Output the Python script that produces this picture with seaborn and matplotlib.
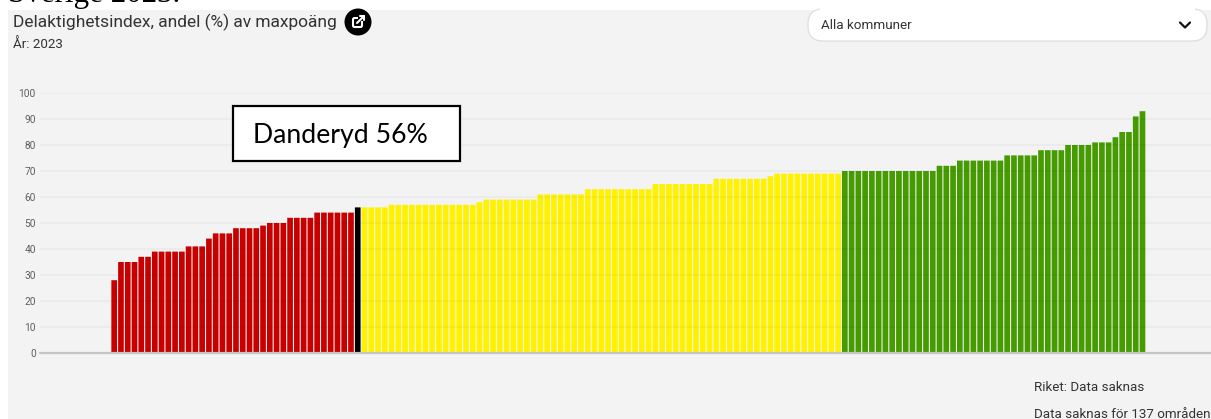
# -*- coding: utf-8 -*-
import pandas as pd
import matplotlib
matplotlib.use('Agg')
import matplotlib.pyplot as plt
from matplotlib.patches import Rectangle, FancyBboxPatch, Circle
import seaborn as sns

# Index values, sorted, grouped as (value, number of municipalities)
red_runs = [(28, 1), (35, 3), (37, 2), (39, 5), (41, 3), (44, 1), (46, 3), (48, 4),
            (49, 1), (50, 3), (52, 4), (54, 6)]
black_runs = [(56, 1)]
yellow_runs = [(56, 4), (57, 13), (58, 1), (59, 8), (61, 7), (63, 10), (65, 9),
               (67, 8), (68, 1), (69, 10)]
green_runs = [(70, 14), (72, 3), (74, 7), (76, 5), (78, 4), (80, 4), (81, 3),
              (83, 1), (85, 2), (91, 1), (93, 1)]

y_ticks = [0, 10, 20, 30, 40, 50, 60, 70, 80, 90, 100]

colors = {'red': '#C80000', 'black': '#000000', 'yellow': '#FFF200', 'green': '#459B00'}

W, H = 1211, 419
BG = '#F3F3F3'

# Build the table for seaborn
rows = []
for group, runs in [('red', red_runs), ('black', black_runs),
                    ('yellow', yellow_runs), ('green', green_runs)]:
    for value, count in runs:
        for _ in range(count):
            rows.append({'kommun': f'k{len(rows)}', 'group': group, 'value': value})
df = pd.DataFrame(rows)

sns.set_theme(style='white')
plt.rcParams['font.family'] = ['Roboto', 'DejaVu Sans']

fig = plt.figure(figsize=(W / 100, H / 100), dpi=100, facecolor='white')

# Clipped heading from the page behind the screenshot
fig.text(8 / W, 1 - 2 / H, 'Sverige 2023.', family='Liberation Serif', fontsize=22.3,
         color='black', ha='left', va='baseline', zorder=-2)
fig.patches.append(Rectangle((8 / W, 0), 1 - 8 / W, 1 - 10 / H, transform=fig.transFigure,
                             facecolor=BG, edgecolor='none', zorder=-1))

# Main chart, placed so 0 is at pixel row 353 and 100 at row 93
ax = fig.add_axes([40 / W, (H - 353) / H, (W - 40) / W, 260 / H])
ax.patch.set_alpha(0)
sns.barplot(data=df, x='kommun', y='value', hue='group', palette=colors, dodge=False,
            width=0.84, saturation=1, legend=False, ax=ax, zorder=2, linewidth=0)
# No pixel snapping, the gaps between bars stay soft and even
for bar in ax.patches:
    bar.set_snap(False)

pitch = 6.765
first_center = 114.2
ax.set_xlim((40 - first_center) / pitch, (W - first_center) / pitch)
ax.set_ylim(0, 100)
ax.set_yticks(y_ticks)
ax.set_xticks([])
ax.set_xlabel('')
ax.set_ylabel('')
ax.tick_params(axis='y', length=0, pad=3, labelsize=7.3, labelcolor='#5F5F5F')
for spine in ax.spines.values():
    spine.set_visible(False)

# Grid sits faintly over the bars
ax.set_axisbelow(False)
ax.grid(axis='y', color='black', alpha=0.04, linewidth=1.2, zorder=3)
ax.axhline(0, color='#C4C4C4', linewidth=1.6, clip_on=False, zorder=4)

# Overlay in pixel coordinates for the page furniture
over = fig.add_axes([0, 0, 1, 1], zorder=5)
over.set_xlim(0, W)
over.set_ylim(H, 0)
over.axis('off')

over.text(13, 22.5, 'Delaktighetsindex, andel (%) av maxpoäng', fontsize=12.5, color='#333333',
          ha='left', va='center')
over.text(13, 44.5, 'År: 2023', fontsize=9.6, color='#333333', ha='left', va='center')

# Share icon
over.add_patch(Circle((358, 22), 13.5, facecolor='black', edgecolor='none'))
over.add_patch(FancyBboxPatch((353, 18), 9, 9, boxstyle='round,pad=0,rounding_size=1.5',
                              facecolor='none', edgecolor='white', linewidth=1.5))
over.add_patch(Rectangle((358, 15), 7, 6, facecolor='black', edgecolor='none'))
over.plot([357, 364], [23, 16], color='white', linewidth=1.5)
over.plot([360, 364, 364], [16, 16, 20], color='white', linewidth=1.5)

# Dropdown
over.add_patch(FancyBboxPatch((808, 9), 399, 32, boxstyle='round,pad=0,rounding_size=15',
                              facecolor='white', edgecolor='#E0E0E0', linewidth=1))
over.add_patch(Rectangle((820, 5), 375, 5, facecolor='white', edgecolor='none'))
over.text(821, 25.5, 'Alla kommuner', fontsize=9.7, color='#333333', ha='left', va='center')
over.plot([1180, 1185, 1190], [22.5, 27.5, 22.5], color='#111111', linewidth=1.6)

# Danderyd callout
over.add_patch(Rectangle((233, 105.5), 227, 55, facecolor='white', edgecolor='black', linewidth=1.6))
over.text(253, 135, 'Danderyd 56%', family='Lato', fontsize=19.2, color='black', ha='left', va='center')

# Footnotes
over.text(1034, 387, 'Riket: Data saknas', fontsize=9.6, color='#333333', ha='left', va='center')
over.text(1034, 414, 'Data saknas för 137 områden', fontsize=9.6, color='#333333', ha='left', va='center')

fig.savefig('out.png', dpi=100, facecolor='white')
